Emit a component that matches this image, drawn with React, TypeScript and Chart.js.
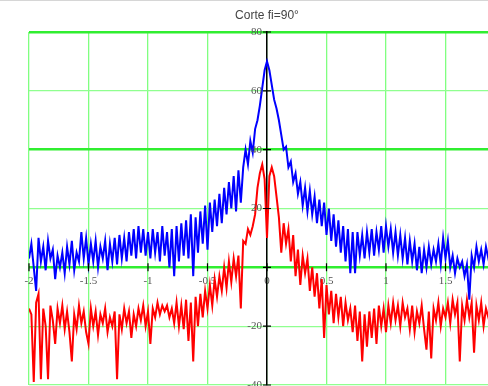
import React, { useEffect, useRef } from 'react';
import { Chart, registerables } from 'chart.js';

Chart.register(...registerables);

const TITLE = 'Corte fi=90°';
const X_START = -2;
const X_STEP = 0.02;
const X_MIN = -2;
const X_MAX = 2;
const X_TICK_STEP = 0.5;
const Y_MIN = -40;
const Y_MAX = 80;
const Y_TICK_STEP = 20;
const MAJOR_Y_LINES = [80, 40, 0];

const BLUE_VALUES = [
  3, 8, 0, -8, 10, 2, 7, -1, 9, 3,
  6, -4, 4, 0, 5, -2, 7, 1, 9, -1,
  5, 2, 12, 3, 10, 1, 8, 2, 9, 0,
  7, 3, 9, -1, 8, 2, 10, 1, 11, 3,
  10, 2, 12, 4, 13, 3, 14, 5, 13, 4,
  12, 3, 13, 5, 12, 2, 14, 4, 12, 0,
  13, -3, 14, 2, 15, 4, 16, 3, 18, -3,
  17, 5, 19, 8, 21, 6, 22, 12, 23, 14,
  25, 15, 27, 18, 29, 20, 31, 19, 33, 22,
  34, 40, 35, 43, 39, 47, 50, 55, 61, 67,
  70, 67, 62, 57, 54, 50, 45, 40, 41, 34,
  36, 29, 32, 25, 29, 21, 27, 19, 26, 18,
  24, 15, 23, 14, 22, 11, 20, 9, 18, 7,
  16, 5, 14, 2, 13, -2, 12, -2, 12, 4,
  11, 3, 12, 5, 13, 4, 12, 6, 14, 5,
  14, 7, 13, 5, 12, 4, 11, 3, 10, 1,
  9, 2, 8, -1, 7, -2, 6, 0, 7, 1,
  6, 2, 8, 1, 10, 3, 9, 0, 4, -2,
  3, 0, 2, -3, 1, -11, 4, 0, 7, 2,
  6, 1, 7, 3, 6, 2,
];

const RED_VALUES = [
  -14, -16, -39, -12, -9, -38, -14, -20, -38, -13,
  -18, -26, -14, -19, -13, -21, -15, -22, -32, -16,
  -21, -13, -19, -15, -22, -26, -14, -20, -15, -23,
  -16, -19, -14, -22, -17, -20, -15, -38, -16, -21,
  -14, -19, -15, -24, -16, -20, -14, -18, -13, -20,
  -15, -26, -14, -17, -12, -16, -13, -15, -13, -17,
  -14, -19, -12, -20, -13, -21, -11, -25, -12, -32,
  -10, -20, -9, -17, -8, -14, -6, -13, -4, -10,
  -3, -8, 0, -7, 2, -5, 3, -3, 4, -14,
  9, 8, 13, 11, 14, 18, 27, 32, 35, 30,
  10, 31, 34, 31, 24, 17, 5, 15, 8, 13,
  2, 11, -3, 6, -6, 4, -2, 3, -8, 0,
  -10, -2, -14, -4, -24, -6, -16, -8, -19, -9,
  -17, -10, -20, -12, -18, -14, -22, -13, -25, -15,
  -32, -16, -27, -15, -24, -14, -26, -13, -20, -14,
  -22, -13, -19, -12, -18, -13, -20, -12, -17, -14,
  -21, -13, -22, -15, -19, -13, -21, -28, -15, -31,
  -14, -18, -12, -20, -14, -17, -12, -19, -11, -16,
  -12, -32, -13, -18, -11, -17, -12, -29, -13, -18,
  -12, -20, -14, -17, -13, -19,
];

const xAt = (i: number) => Math.round((X_START + i * X_STEP) * 1000) / 1000;
const toPoints = (vals: number[]) => vals.map((y, i) => ({ x: xAt(i), y }));

const TICK_FONT = '11px "Liberation Serif"';
const TICK_COLOR = '#555';

const overlayPlugin = {
  id: 'overlay',
  afterDraw(chart: any) {
    const ctx = chart.ctx;
    const xs = chart.scales.x;
    const ys = chart.scales.y;
    const x0 = xs.getPixelForValue(0);
    const y0 = ys.getPixelForValue(0);
    ctx.save();
    // title
    ctx.font = '12px "Liberation Sans"';
    ctx.fillStyle = '#444';
    ctx.textAlign = 'center';
    ctx.textBaseline = 'middle';
    ctx.fillText(TITLE, x0, 15);
    // y tick labels, to the left of the y axis
    ctx.font = TICK_FONT;
    ctx.fillStyle = TICK_COLOR;
    ctx.textAlign = 'right';
    ctx.textBaseline = 'middle';
    ys.ticks.forEach((t: any) => {
      if (t.value === 0) return;
      ctx.fillText(String(t.value), x0 - 5, ys.getPixelForValue(t.value));
    });
    // crossing tick marks
    ctx.strokeStyle = '#000';
    ctx.lineWidth = 1.2;
    ctx.beginPath();
    ys.ticks.forEach((t: any) => {
      const py = ys.getPixelForValue(t.value);
      ctx.moveTo(x0 - 4, py);
      ctx.lineTo(x0 + 4, py);
    });
    xs.ticks.forEach((t: any) => {
      const px = xs.getPixelForValue(t.value);
      ctx.moveTo(px, y0 - 4);
      ctx.lineTo(px, y0 + 4);
    });
    ctx.stroke();
    ctx.restore();
  },
};

export default function App() {
  const ref = useRef<HTMLCanvasElement | null>(null);
  useEffect(() => {
    if (!ref.current) return;
    const chart = new Chart(ref.current, {
      type: 'line',
      data: {
        datasets: [
          {
            data: toPoints(RED_VALUES),
            borderColor: '#ff0000',
            borderWidth: 2,
            pointRadius: 0,
            tension: 0,
          },
          {
            data: toPoints(BLUE_VALUES),
            borderColor: '#0000ff',
            borderWidth: 2,
            pointRadius: 0,
            tension: 0,
          },
        ],
      },
      options: {
        animation: false,
        responsive: false,
        maintainAspectRatio: false,
        layout: { padding: { left: 29, top: 31, right: 7, bottom: 8 } },
        plugins: { legend: { display: false }, tooltip: { enabled: false }, title: { display: false } },
        scales: {
          x: {
            type: 'linear',
            min: X_MIN,
            max: X_MAX,
            position: { y: 0 },
            ticks: {
              stepSize: X_TICK_STEP,
              autoSkip: false,
              maxRotation: 0,
              padding: 3,
              color: TICK_COLOR,
              font: { family: 'Liberation Serif', size: 11 },
              callback: (v: any) => String(Math.round(Number(v) * 10) / 10),
            },
            grid: { color: '#80ff80', lineWidth: 1.3, drawTicks: true, tickColor: 'rgba(0,0,0,0)', tickLength: 4 },
            border: { display: false },
          },
          y: {
            type: 'linear',
            min: Y_MIN,
            max: Y_MAX,
            position: { x: 0 },
            ticks: {
              stepSize: Y_TICK_STEP,
              display: false,
            },
            grid: {
              color: (c: any) => (MAJOR_Y_LINES.includes(c.tick?.value) ? '#30ee30' : '#90ff90'),
              lineWidth: (c: any) => (MAJOR_Y_LINES.includes(c.tick?.value) ? 2.5 : 1.2),
              drawTicks: false,
            },
            border: { display: true, color: '#000', width: 1.5 },
          },
        },
      },
      plugins: [overlayPlugin],
    } as any);
    return () => chart.destroy();
  }, []);
  return (
    <div
      style={{
        position: 'fixed',
        left: 0,
        top: 0,
        width: 488,
        height: 386,
        overflow: 'hidden',
        background: '#fff',
        borderTop: '1px solid #d6d6d6',
        boxSizing: 'border-box',
      }}
    >
      <canvas ref={ref} width={512} height={392} style={{ display: 'block' }} />
    </div>
  );
}
